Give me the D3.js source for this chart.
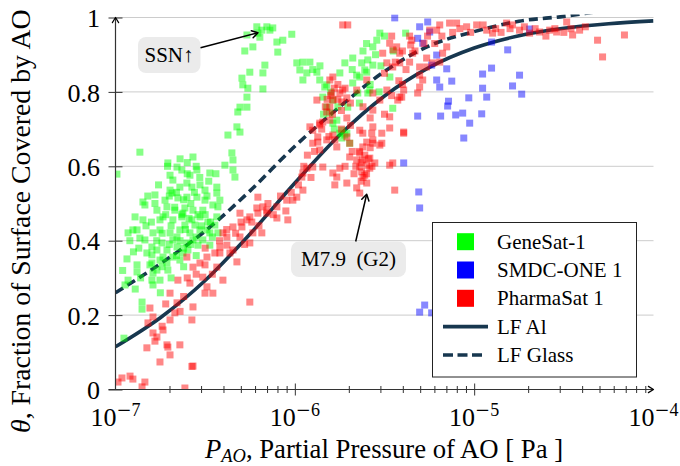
<!DOCTYPE html>
<html><head><meta charset="utf-8">
<script src="https://cdn.jsdelivr.net/npm/d3@7"></script>
<style>
body{margin:0;background:#fff;}
svg{display:block;font-family:"Liberation Serif","Times New Roman",serif;}
</style></head><body>
<svg id="c" width="680" height="466"></svg>
<script>
// ---------- data (pressure stored as log10 of Pa) ----------
const xTickExponents = [-7, -6, -5, -4];
const yTicks = [0, 0.2, 0.4, 0.6, 0.8, 1];
const yTickLabels = ["0", "0.2", "0.4", "0.6", "0.8", "1"];
const seriesNames = ["GeneSat-1", "SMDC-ONE 1", "PharmaSat 1"];
const seriesColors = ["#00ff00", "#0000ff", "#ff0000"];
const lineNames = ["LF Al", "LF Glass"];

// fitted curves
const curveLogP = [-7, -6.75, -6.5, -6.25, -6, -5.75, -5.5, -5.25, -5, -4.75, -4.5, -4.25, -4];
const lfAl =     [0.115, 0.193, 0.293, 0.418, 0.555, 0.684, 0.789, 0.866, 0.918, 0.951, 0.971, 0.983, 0.991];
const lfGlass =  [0.26, 0.338, 0.426, 0.534, 0.654, 0.76, 0.855, 0.924, 0.962, 0.99, 1.003, 1.02, 1.035];

const geneSat = [
[-6.212,0.975],[-6.156,0.975],[-6.139,0.966],[-6.123,0.972],[-6.267,0.953],[-6.195,0.947],[-6.234,0.921],[-6.100,0.934],[-6.067,0.939],[-6.017,0.955],[-6.095,0.907],[-6.279,0.910],[-6.184,0.966],[-6.206,0.958],
[-6.251,0.853],[-6.167,0.872],[-6.178,0.851],[-6.295,0.837],[-6.290,0.819],[-6.262,0.810],[-6.178,0.808],[-6.267,0.786],[-6.306,0.759],[-6.318,0.746],[-6.267,0.759],[-6.323,0.706],[-6.373,0.684],[-6.306,0.692],[-6.351,0.636],[-6.345,0.617],[-6.390,0.603],[-6.345,0.590],[-6.334,0.571],[-6.474,0.582],[-6.435,0.544],[-6.418,0.509],
[-5.989,0.878],[-5.955,0.880],[-5.916,0.880],[-5.972,0.859],[-5.933,0.851],[-5.877,0.853],[-5.955,0.832],[-5.861,0.832],[-5.833,0.813],[-5.844,0.786],[-5.788,0.778],[-5.822,0.759],[-5.805,0.743],
[-5.526,0.958],[-5.382,0.958],[-5.565,0.921],[-5.677,0.891],[-5.627,0.878],[-5.593,0.886],[-5.565,0.872],[-5.610,0.859],[-5.721,0.878],[-5.749,0.851],[-5.677,0.824],[-5.649,0.797],[-5.582,0.805],[-5.454,0.756],[-5.749,0.689],[-5.705,0.759],[-5.543,0.939],[-5.655,0.845],[-5.638,0.840],[-5.599,0.853],
[-5.822,0.819],[-5.721,0.684],[-5.710,0.689],[-5.738,0.676],[-5.788,0.716],[-5.593,0.797],[-5.766,0.724],[-5.694,0.662],[-5.738,0.697],
[-5.60,0.93],[-5.55,0.90],[-5.50,0.95],[-5.45,0.91],[-5.58,0.82],[-5.52,0.87],[-5.62,0.91],[-5.47,0.84],[-5.68,0.86],[-5.53,0.80],[-5.64,0.77],[-5.90,0.86],[-5.86,0.87],[-5.80,0.80],[-5.84,0.74],[-5.76,0.76],[-5.78,0.70],
[-6.708,0.609],[-6.657,0.598],[-6.630,0.590],[-6.568,0.625],[-6.546,0.590],[-6.680,0.563],[-6.641,0.544],[-6.602,0.555],[-6.574,0.544],[-6.529,0.550],[-6.685,0.528],[-6.652,0.515],[-6.602,0.517],[-6.546,0.517],[-6.501,0.509],[-6.435,0.528],[-6.713,0.491],[-6.669,0.482],[-6.613,0.488],[-6.568,0.482],[-6.513,0.482],[-6.457,0.496],[-6.429,0.491],[-6.735,0.464],[-6.680,0.456],[-6.630,0.464],[-6.574,0.456],[-6.529,0.464],[-6.485,0.450],[-6.435,0.464],[-6.752,0.429],[-6.696,0.421],[-6.641,0.429],[-6.585,0.421],[-6.529,0.429],[-6.474,0.421],[-6.429,0.421],
[-6.864,0.638],[-6.992,0.579],[-6.847,0.504],[-6.836,0.496],[-6.891,0.464],[-6.847,0.456],[-6.752,0.456],[-6.791,0.421],[-6.930,0.421],[-6.880,0.429],[-6.864,0.407],
[-6.936,0.351],[-6.930,0.294],[-6.852,0.235],[-6.852,0.216],[-6.880,0.335],[-6.880,0.316],[-6.953,0.138],[-6.903,0.429],[-6.825,0.367],[-6.797,0.362],[-6.769,0.375],[-6.752,0.348],[-6.797,0.340],[-6.791,0.313],[-6.797,0.294],[-6.791,0.281],[-6.713,0.375],[-6.735,0.356],[-6.680,0.356],[-6.657,0.383],[-6.624,0.367],[-6.602,0.394],[-6.568,0.402],[-6.490,0.429],[-6.680,0.402],[-6.741,0.394],[-6.641,0.348],[-6.713,0.340],[-6.769,0.321],[-6.797,0.383],
[-6.724,0.509],[-6.613,0.442],[-6.557,0.442],[-6.657,0.410],[-6.596,0.375],[-6.540,0.388],[-6.708,0.321],[-6.752,0.294],[-6.836,0.402],[-6.808,0.335],[-6.513,0.402],[-6.474,0.388],[-6.696,0.536],[-6.585,0.576],[-6.780,0.523],[-6.769,0.482],[-6.501,0.536],[-6.446,0.442],[-6.624,0.474],[-6.696,0.576],[-6.947,0.281],
[-6.80,0.45],[-6.78,0.50],[-6.76,0.55],[-6.74,0.42],[-6.72,0.47],[-6.70,0.52],[-6.69,0.44],[-6.67,0.49],[-6.66,0.53],[-6.64,0.40],[-6.63,0.47],[-6.62,0.51],[-6.61,0.43],[-6.60,0.58],[-6.59,0.46],[-6.58,0.50],[-6.56,0.53],[-6.55,0.41],[-6.54,0.47],[-6.53,0.57],[-6.52,0.44],[-6.50,0.47],[-6.49,0.52],[-6.47,0.45],[-6.46,0.41],[-6.62,0.38],[-6.66,0.36],[-6.70,0.39],[-6.74,0.33],[-6.77,0.40],[-6.58,0.39],[-6.55,0.36],[-6.69,0.30],[-6.62,0.33],[-6.83,0.44],[-6.82,0.52],[-6.87,0.38],[-6.90,0.37],[-6.92,0.40],[-6.96,0.32],[-6.89,0.27],[-6.86,0.30],[-6.75,0.26],[-6.71,0.60],[-6.64,0.62],[-6.60,0.61],[-6.55,0.60],[-6.48,0.56],[-6.44,0.58]
];

const smdcOne = [
[-5.443,0.999],[-5.304,0.975],[-5.259,0.988],[-5.248,0.961],[-5.315,0.944],[-5.287,0.931],[-4.903,0.934],[-4.691,0.969],[-4.813,0.913],[-5.209,0.899],[-5.237,0.872],[-5.153,0.862],[-4.953,0.848],[-4.903,0.864],[-4.747,0.845],[-5.209,0.832],[-5.125,0.829],[-5.192,0.813],[-4.953,0.810],[-4.786,0.816],[-4.735,0.794],[-4.930,0.786],[-5.030,0.784],[-5.143,0.775],[-5.148,0.762],[-5.315,0.735],[-5.187,0.735],[-5.103,0.738],[-5.064,0.743],[-4.958,0.741],[-5.025,0.716],[-5.058,0.676],[-5.393,0.609],[-5.309,0.531],[-5.304,0.488],[-5.304,0.208],[-5.276,0.227],[-5.237,0.206]
];

const pharmaSat = [
[-6.986,0.020],[-6.964,0.031],[-6.919,0.036],[-6.903,0.028],[-6.852,0.007],[-6.836,0.020],[-6.752,0.074],[-6.613,0.004],[-6.568,0.063],
[-6.808,0.219],[-6.791,0.195],[-6.819,0.179],[-6.791,0.152],[-6.769,0.141],[-6.735,0.160],[-6.713,0.120],[-6.708,0.114],[-6.696,0.093],[-6.825,0.112],[-6.641,0.120],[-6.669,0.206],[-6.696,0.187],[-6.657,0.233],[-6.696,0.259],[-6.652,0.294],[-6.574,0.187],[-6.568,0.222],[-6.574,0.062],[-6.585,0.286],[-6.529,0.340],[-6.490,0.356],[-6.513,0.302],[-6.501,0.259],[-6.490,0.276],[-6.457,0.259],[-6.568,0.329],[-6.602,0.356],[-6.418,0.367],[-6.401,0.294],[-6.435,0.329],[-6.379,0.388],[-6.345,0.375],[-6.323,0.343],[-6.251,0.235],[-6.306,0.410],[-6.251,0.394],[-6.234,0.421],[-6.184,0.421],[-6.379,0.410],[-6.401,0.421],[-6.501,0.335],[-6.446,0.367],[-6.362,0.367],[-6.418,0.383],
[-6.60,0.30],[-6.55,0.31],[-6.62,0.25],[-6.64,0.21],[-6.74,0.17],[-6.78,0.13],[-6.72,0.23],[-6.50,0.38],[-6.46,0.31],
[-6.295,0.437],[-6.267,0.456],[-6.206,0.474],[-6.156,0.482],[-6.100,0.461],[-6.039,0.456],[-6.045,0.509],[-5.989,0.517],[-6.206,0.517],[-5.955,0.536],[-5.955,0.582],[-5.933,0.595],[-5.900,0.662],[-5.872,0.679],[-5.861,0.711],[-5.877,0.778],[-5.844,0.719],[-5.822,0.746],[-5.805,0.759],[-5.788,0.684],[-5.766,0.652],[-5.777,0.671],[-5.749,0.797],[-5.710,0.784],[-5.733,0.805],[-5.738,0.773],
[-6.42,0.40],[-6.38,0.43],[-6.33,0.42],[-6.30,0.45],[-6.28,0.39],[-6.24,0.45],[-6.20,0.44],[-6.15,0.50],[-6.12,0.47],[-6.08,0.52],[-6.05,0.48],[-6.02,0.53],[-5.98,0.55],[-5.95,0.60],[-5.93,0.63],[-5.91,0.57],[-5.89,0.64],
[-5.83,0.76],[-5.80,0.79],[-5.78,0.81],[-5.76,0.78],[-5.74,0.75],[-5.72,0.81],[-5.79,0.74],[-5.82,0.78],[-5.76,0.82],[-5.74,0.70],[-5.71,0.73],[-5.69,0.77],[-5.85,0.70],[-5.81,0.68],[-5.69,0.71],
[-5.638,0.697],[-5.621,0.689],[-5.571,0.689],[-5.515,0.689],[-5.599,0.665],[-5.638,0.636],[-5.694,0.625],[-5.655,0.617],[-5.621,0.617],[-5.582,0.622],[-5.638,0.598],[-5.599,0.603],[-5.627,0.585],[-5.610,0.576],[-5.582,0.595],[-5.554,0.609],[-5.565,0.662],[-5.526,0.657],[-5.599,0.555],[-5.655,0.542],[-5.749,0.595],[-5.766,0.571],[-5.777,0.550],[-5.710,0.555],[-5.844,0.598],[-5.872,0.665],[-5.454,0.609],[-5.393,0.692],[-5.471,0.703],[-5.443,0.536],[-5.415,0.786],[-5.487,0.805],[-5.565,0.797],
[-5.66,0.60],[-5.63,0.61],[-5.61,0.63],[-5.60,0.58],[-5.62,0.57],[-5.64,0.64],[-5.59,0.62],[-5.58,0.65],[-5.67,0.58],[-5.63,0.56],[-5.57,0.60],[-5.68,0.64],[-5.72,0.60],
[-6.306,0.474],[-6.251,0.464],[-6.212,0.488],[-6.178,0.491],[-6.156,0.474],[-6.100,0.491],[-6.011,0.509],[-5.961,0.571],[-5.900,0.598],[-5.788,0.582],[-5.861,0.644],[-5.822,0.671],[-5.900,0.697],[-5.916,0.706],[-5.861,0.716],[-5.805,0.724],[-5.788,0.778],[-5.794,0.797],[-5.805,0.832],[-5.788,0.840],[-6.345,0.437],
[-5.733,0.980],[-5.705,0.980],[-5.248,0.966],[-5.192,0.980],[-5.098,0.985],[-5.042,0.975],[-4.986,0.980],[-4.819,0.985],[-4.747,0.966],[-4.786,0.980],[-4.691,0.958],[-4.635,0.961],[-4.579,0.966],[-4.540,0.961],[-4.484,0.988],[-4.451,0.953],[-4.412,0.966],[-4.312,0.939],[-4.284,0.894],[-4.162,0.953],[-4.930,0.966],[-4.897,0.958],
[-5.471,0.931],[-5.432,0.921],[-5.454,0.913],[-5.510,0.904],[-5.415,0.904],[-5.487,0.878],[-5.454,0.867],[-5.415,0.878],[-5.354,0.926],[-5.348,0.939],[-5.343,0.904],[-5.304,0.867],[-5.265,0.891],[-5.265,0.867],[-5.231,0.878],[-5.192,0.880],[-5.176,0.904],[-5.153,0.921],[-5.209,0.966],[-5.137,0.985],
[-5.304,0.845],[-5.287,0.832],[-5.304,0.813],[-5.315,0.797],[-5.393,0.805],[-5.404,0.786],[-5.426,0.778],[-5.471,0.733],[-5.393,0.689],[-5.515,0.662],[-5.565,0.706],[-5.565,0.671],[-5.621,0.652],[-5.694,0.662],[-5.710,0.679],[-5.655,0.805],[-5.599,0.832],[-5.565,0.751],[-5.526,0.778],[-5.471,0.603],[-5.638,0.528],
[-5.62,0.76],[-5.58,0.73],[-5.50,0.74],[-5.46,0.79],[-5.42,0.83],[-5.38,0.86],[-5.36,0.88],[-5.33,0.91],[-5.28,0.93],[-5.26,0.95],[-5.22,0.93],[-5.18,0.95],[-5.12,0.96],[-5.08,0.97],[-5.02,0.96],[-4.95,0.98],[-4.88,0.97],[-4.85,0.96],[-4.80,0.97],[-4.72,0.975],[-4.66,0.97],[-4.60,0.95],[-4.55,0.97],[-4.50,0.96],[-4.46,0.97],[-4.38,0.975],[-5.50,0.85],[-5.44,0.88],[-5.40,0.91],[-5.46,0.95],[-5.36,0.95],[-5.40,0.82]
];
const seriesData = [geneSat, smdcOne, pharmaSat];

// ---------- layout ----------
const L = 115.5, R = 653.5, T = 17.5, B = 389.5;
const lineColor = "#17374f";
const x = d3.scaleLog().domain([1e-7, 1e-4]).range([L, R]);
const y = d3.scaleLinear().domain([0, 1]).range([B, T]);
const svg = d3.select("#c");
const px = e => x(Math.pow(10, e));

svg.append("defs").append("clipPath").attr("id", "clip")
  .append("rect").attr("x", L).attr("y", T - 3).attr("width", R - L).attr("height", B - T + 3);

// grid
svg.append("g").selectAll("line").data(yTicks.filter(d => d > 0)).join("line")
  .attr("x1", L).attr("x2", R).attr("y1", d => y(d)).attr("y2", d => y(d))
  .attr("stroke", "#cccccc").attr("stroke-width", 1);

// curves (drawn below the markers)
const line = d3.line().x(d => px(d[0])).y(d => y(d[1])).curve(d3.curveMonotoneX);
const gCurves = svg.append("g").attr("clip-path", "url(#clip)");
gCurves.append("path").attr("d", line(curveLogP.map((e, i) => [e, lfAl[i]])))
  .attr("fill", "none").attr("stroke", lineColor).attr("stroke-width", 3.6);
gCurves.append("path").attr("d", line(curveLogP.map((e, i) => [e, lfGlass[i]])))
  .attr("fill", "none").attr("stroke", lineColor).attr("stroke-width", 3.6)
  .attr("stroke-dasharray", "9,5");

// markers
const S = 7;
seriesData.forEach((data, si) => {
  svg.append("g").attr("clip-path", "url(#clip)").selectAll("rect").data(data).join("rect")
    .attr("x", d => px(d[0]) - S / 2).attr("y", d => y(d[1]) - S / 2)
    .attr("width", S).attr("height", S)
    .attr("fill", seriesColors[si]).attr("fill-opacity", 0.47);
});

// arrow helper
function arrowHead(g, tx, ty, ang, len, w) {
  const a1 = ang + Math.PI - 0.55, a2 = ang + Math.PI + 0.55;
  g.append("path")
    .attr("d", `M${tx + len * Math.cos(a1)},${ty + len * Math.sin(a1)} L${tx},${ty} L${tx + len * Math.cos(a2)},${ty + len * Math.sin(a2)}`)
    .attr("fill", "none").attr("stroke", "#000").attr("stroke-width", w).attr("stroke-linejoin", "round").attr("stroke-linecap", "round");
}

// axes
const axisColor = "#333";
const gy = svg.append("g").attr("transform", `translate(${L},0)`)
  .call(d3.axisLeft(y).tickValues(yTicks).tickFormat((d, i) => yTickLabels[i]).tickSize(7).tickPadding(8.5));
gy.attr("font-family", null).attr("font-size", null);
gy.select(".domain").remove();
gy.selectAll(".tick line").attr("x1", 7).attr("stroke", axisColor);
gy.selectAll(".tick text").attr("font-size", 26).attr("fill", "#000").attr("dy", "0.35em");

const majors = xTickExponents.map(e => Math.pow(10, e));
const minors = x.ticks().filter(v => !majors.some(m => Math.abs(m - v) / m < 1e-6));
const gxMinor = svg.append("g").attr("transform", `translate(0,${B})`)
  .call(d3.axisBottom(x).tickValues(minors).tickFormat("").tickSize(3.5));
gxMinor.select(".domain").remove();
gxMinor.selectAll(".tick line").attr("y1", -3.5).attr("stroke", axisColor);
const gxMajor = svg.append("g").attr("transform", `translate(0,${B})`)
  .call(d3.axisBottom(x).tickValues(majors.slice(1, 3)).tickFormat("").tickSize(6));
gxMajor.select(".domain").remove();
gxMajor.selectAll(".tick line").attr("y1", -6).attr("stroke", axisColor);

// axis lines with arrows
const gA = svg.append("g");
gA.append("line").attr("x1", L).attr("x2", L).attr("y1", B).attr("y2", T + 0.5).attr("stroke", axisColor).attr("stroke-width", 1.2);
gA.append("line").attr("x1", L - 7).attr("x2", R - 0.5).attr("y1", B).attr("y2", B).attr("stroke", axisColor).attr("stroke-width", 1.2);
arrowHead(gA, L, T, -Math.PI / 2, 6, 1.2);
arrowHead(gA, R, B, 0, 6, 1.2);

// x tick labels 10^n
const gxl = svg.append("g");
xTickExponents.forEach((e, i) => {
  const t = gxl.append("text").attr("x", x(majors[i])).attr("y", 426).attr("text-anchor", "middle").attr("font-size", 26);
  t.append("tspan").text("10");
  t.append("tspan").attr("dy", -10).attr("font-size", 18).attr("font-family", "DejaVu Serif").text("\u2212");
  t.append("tspan").attr("font-size", 18).text(String(-e));
});

// axis titles
const xt = svg.append("text").attr("x", 384).attr("y", 458).attr("text-anchor", "middle").attr("font-size", 26.7);
xt.append("tspan").attr("font-style", "italic").text("P");
xt.append("tspan").attr("font-style", "italic").attr("font-size", 18.5).attr("dy", 4).text("AO");
xt.append("tspan").attr("dy", -4).text(", Partial Pressure of AO [ Pa ]");

const yt = svg.append("text").attr("transform", "translate(30,433) rotate(-90)").attr("text-anchor", "start").attr("font-size", 27.8);
yt.append("tspan").attr("font-style", "italic").text("\u03b8");
yt.append("tspan").text(", Fraction of Surface Covered by AO");

// annotations
const gN = svg.append("g");
gN.append("rect").attr("x", 138).attr("y", 37).attr("width", 62.5).attr("height", 36).attr("rx", 8).attr("fill", "#ebebeb");
gN.append("text").attr("x", 169).attr("y", 62).attr("text-anchor", "middle").attr("font-size", 21).text("SSN\u2191");
gN.append("line").attr("x1", 200.5).attr("y1", 47.7).attr("x2", 257.5).attr("y2", 32.8).attr("stroke", "#000").attr("stroke-width", 1.5);
arrowHead(gN, 258, 32.7, Math.atan2(32.7 - 47.7, 258 - 200.5), 7, 1.5);

gN.append("rect").attr("x", 291).attr("y", 241.5).attr("width", 115).attr("height", 35.5).attr("rx", 8).attr("fill", "#ebebeb");
gN.append("text").attr("x", 348.5).attr("y", 266).attr("text-anchor", "middle").attr("font-size", 21).attr("xml:space", "preserve").text("M7.9\u00a0 (G2)");
gN.append("line").attr("x1", 355.7).attr("y1", 241.5).attr("x2", 366.5).attr("y2", 195).attr("stroke", "#000").attr("stroke-width", 1.5);
arrowHead(gN, 366.7, 194.3, Math.atan2(194.3 - 241.5, 366.7 - 355.7), 7, 1.5);

// legend
const gL = svg.append("g");
gL.append("rect").attr("x", 432.5).attr("y", 222.5).attr("width", 204).attr("height", 154.5)
  .attr("fill", "#fff").attr("stroke", "#222").attr("stroke-width", 1);
const rowY = [241.7, 270, 298.3, 326.6, 355];
seriesNames.forEach((n, i) => {
  gL.append("rect").attr("x", 457).attr("y", rowY[i] - 8.5).attr("width", 17).attr("height", 17).attr("fill", seriesColors[i]);
  gL.append("text").attr("x", 497).attr("y", rowY[i] + 7).attr("font-size", 21).text(n);
});
lineNames.forEach((n, i) => {
  const yy = rowY[3 + i];
  gL.append("line").attr("x1", 443).attr("x2", i === 0 ? 488 : 484).attr("y1", yy).attr("y2", yy)
    .attr("stroke", lineColor).attr("stroke-width", 3.6).attr("stroke-dasharray", i === 0 ? null : "10,4.5");
  gL.append("text").attr("x", 497).attr("y", yy + 7).attr("font-size", 21).text(n);
});
</script></body></html>
